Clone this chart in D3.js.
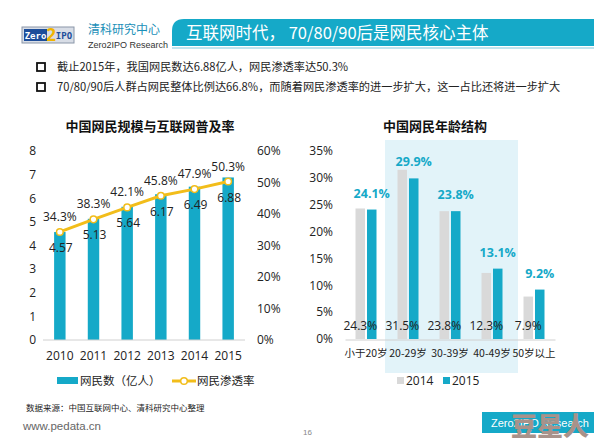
<!DOCTYPE html>
<html><head><meta charset="utf-8">
<script src="https://cdn.jsdelivr.net/npm/d3@7"></script>
<style>
body{margin:0;background:#fff;}
svg{display:block;font-family:"Open Sans","Noto Sans CJK SC",sans-serif;}
</style></head>
<body><svg id="c" width="594" height="444"></svg>
<script>
// ---- data ----
const years = ["2010","2011","2012","2013","2014","2015"];
const netizens = [4.57,5.13,5.64,6.17,6.49,6.88];
const penetration = [34.3,38.3,42.1,45.8,47.9,50.3];
const leftTicks = [0,1,2,3,4,5,6,7,8];
const rightTicks = [0,10,20,30,40,50,60];
const ageGroups = ["小于20岁","20-29岁","30-39岁","40-49岁","50岁以上"];
const age2014 = [24.3,31.5,23.8,12.3,7.9];
const age2015 = [24.1,29.9,23.8,13.1,9.2];
const ageTicks = [0,5,10,15,20,25,30,35];
const bullets = ["截止2015年，我国网民数达6.88亿人，网民渗透率达50.3%",
 "70/80/90后人群占网民整体比例达66.8%，而随着网民渗透率的进一步扩大，这一占比还将进一步扩大"];

const TEAL="#15a9c8", YEL="#f2bd1a", GRAY="#d9d9d9", TXT="#222";
const svg=d3.select("#c");
const cjk='"Noto Sans CJK SC",sans-serif';

// ---- header ----
svg.append("rect").attr("x",22).attr("y",27).attr("width",52).attr("height",16).attr("fill","#d8dde6").attr("stroke","#8a96a8");
svg.append("rect").attr("x",24).attr("y",29).attr("width",23).attr("height",12).attr("fill","#1d4e9a");
svg.append("text").attr("x",35.5).attr("y",39).attr("text-anchor","middle").attr("font-size",9).attr("font-weight","bold").attr("fill","#fff").attr("font-family","DejaVu Sans Mono").text("Zero");
svg.append("text").attr("x",51).attr("y",41).attr("text-anchor","middle").attr("font-size",17).attr("font-weight","bold").attr("fill","#f0b400").text("2");
svg.append("text").attr("x",64).attr("y",39).attr("text-anchor","middle").attr("font-size",9).attr("font-weight","bold").attr("fill","#1d4e9a").attr("font-family","DejaVu Sans Mono").text("IPO");
svg.append("text").attr("x",88).attr("y",34).attr("font-size",12).attr("fill","#1a8fb8").attr("font-family",cjk).text("清科研究中心");
svg.append("text").attr("x",88).attr("y",48).attr("font-size",9).attr("fill","#333").attr("font-family","Liberation Sans Narrow, Liberation Sans").text("Zero2IPO Research");
svg.append("path").attr("d","M172,46 L172,31 Q172,19 184,19 L594,19 L594,46 Z").attr("fill",TEAL);
svg.append("rect").attr("x",172).attr("y",47).attr("width",422).attr("height",2).attr("fill","#bfe4ee");
svg.append("text").attr("x",186).attr("y",39).attr("font-size",16.5).attr("fill","#fff").attr("font-family",cjk).text("互联网时代， 70/80/90后是网民核心主体");

bullets.forEach((b,i)=>{
  const y=68+i*20;
  svg.append("rect").attr("x",37).attr("y",y-5).attr("width",8).attr("height",8).attr("fill","none").attr("stroke","#111").attr("stroke-width",1.8);
  svg.append("text").attr("x",57).attr("y",y+3).attr("font-size",11.2).attr("fill",TXT).attr("font-family",cjk).text(b);
});

// ---- left chart ----
svg.append("text").attr("x",150).attr("y",131).attr("text-anchor","middle").attr("font-size",13).attr("font-weight","bold").attr("fill","#111").attr("font-family",cjk).text("中国网民规模与互联网普及率");
const xL=d3.scaleBand().domain(years).range([43,245]).paddingInner(0.66).paddingOuter(0.33);
const yL=d3.scaleLinear().domain([0,8]).range([340,151]);
const yR=d3.scaleLinear().domain([0,60]).range([340,151]);
const gl=svg.append("g");
gl.append("g").attr("transform","translate(36,0)").call(d3.axisLeft(yL).tickValues(leftTicks).tickSize(0).tickPadding(0))
  .call(g=>{g.select(".domain").remove();g.selectAll("text").attr("font-size",12).attr("fill",TXT).attr("font-family","Open Sans");});
gl.append("g").attr("transform","translate(257,0)").call(d3.axisRight(yR).tickValues(rightTicks).tickFormat(d=>d+"%").tickSize(0).tickPadding(0))
  .call(g=>{g.select(".domain").remove();g.selectAll("text").attr("font-size",12).attr("fill",TXT).attr("font-family","Open Sans");});
gl.selectAll(".bar").data(years).join("rect").attr("x",d=>xL(d)).attr("width",xL.bandwidth())
  .attr("y",(d,i)=>yL(netizens[i])).attr("height",(d,i)=>yL(0)-yL(netizens[i])).attr("fill",TEAL);
gl.append("g").attr("transform","translate(0,340)").call(d3.axisBottom(xL).tickSize(0).tickPadding(11))
  .call(g=>{g.select(".domain").attr("stroke","#d0d0d0").attr("d","M43,0H245");g.selectAll("text").attr("font-size",12).attr("fill",TXT).attr("font-family","Open Sans");});
const cx=d=>xL(d)+xL.bandwidth()/2;
gl.append("path").datum(years).attr("fill","none").attr("stroke",YEL).attr("stroke-width",3)
  .attr("d",d3.line().x(d=>cx(d)).y((d,i)=>yR(penetration[i])));
gl.selectAll(".pt").data(years).join("circle").attr("cx",cx).attr("cy",(d,i)=>yR(penetration[i])).attr("r",3.3).attr("fill","#fff").attr("stroke",YEL).attr("stroke-width",1.5);
gl.selectAll(".pl").data(years).join("text").attr("x",cx).attr("y",(d,i)=>yR(penetration[i])-11).attr("text-anchor","middle").attr("font-size",12).attr("fill",TXT).attr("font-family","Open Sans").text((d,i)=>penetration[i].toFixed(1)+"%");
gl.selectAll(".vl").data(years).join("text").attr("x",d=>cx(d)+1).attr("y",(d,i)=>yR(penetration[i])+20).attr("text-anchor","middle").attr("font-size",12).attr("fill",TXT).attr("font-family","Open Sans").text((d,i)=>netizens[i].toFixed(2));
// legend
svg.append("rect").attr("x",57).attr("y",377).attr("width",21).attr("height",7).attr("fill",TEAL);
svg.append("text").attr("x",80).attr("y",385).attr("font-size",11.5).attr("fill",TXT).attr("font-family",cjk).text("网民数（亿人）");
svg.append("line").attr("x1",172).attr("x2",196).attr("y1",381).attr("y2",381).attr("stroke",YEL).attr("stroke-width",3);
svg.append("circle").attr("cx",184).attr("cy",381).attr("r",3.3).attr("fill","#fff").attr("stroke",YEL).attr("stroke-width",1.5);
svg.append("text").attr("x",197).attr("y",385).attr("font-size",11.5).attr("fill",TXT).attr("font-family",cjk).text("网民渗透率");

// ---- right chart ----
svg.append("rect").attr("x",385).attr("y",140).attr("width",133).attr("height",233).attr("fill","#e2f3f9");
svg.append("text").attr("x",435).attr("y",131).attr("text-anchor","middle").attr("font-size",13).attr("font-weight","bold").attr("fill","#111").attr("font-family",cjk).text("中国网民年龄结构");
const xA=d3.scaleBand().domain(ageGroups).range([345,555]);
const yA=d3.scaleLinear().domain([0,35]).range([339,151]);
const bw=9.5, gap=2;
const ga=svg.append("g");
ga.append("g").attr("transform","translate(333,0)").call(d3.axisLeft(yA).tickValues(ageTicks).tickFormat(d=>d+"%").tickSize(0).tickPadding(0))
  .call(g=>{g.select(".domain").remove();g.selectAll("text").attr("font-size",12).attr("fill",TXT).attr("font-family","Open Sans");});
const mid=d=>xA(d)+xA.bandwidth()/2;
ga.selectAll(".b14").data(ageGroups).join("rect").attr("x",d=>mid(d)-gap/2-bw).attr("width",bw)
  .attr("y",(d,i)=>yA(age2014[i])).attr("height",(d,i)=>yA(0)-yA(age2014[i])).attr("fill",GRAY);
ga.selectAll(".b15").data(ageGroups).join("rect").attr("x",d=>mid(d)+gap/2).attr("width",bw)
  .attr("y",(d,i)=>yA(age2015[i])).attr("height",(d,i)=>yA(0)-yA(age2015[i])).attr("fill",TEAL);
ga.append("g").attr("transform","translate(0,339.5)").call(d3.axisBottom(xA).tickSize(0).tickPadding(10))
  .call(g=>{g.select(".domain").attr("stroke","#d0d0d0");g.selectAll("text").attr("font-size",10.5).attr("fill",TXT).attr("font-family",cjk);});
ga.selectAll(".l15").data(ageGroups).join("text").attr("x",d=>mid(d)+gap/2+bw/2).attr("y",(d,i)=>yA(age2015[i])-12).attr("text-anchor","middle")
  .attr("font-size",12.5).attr("font-weight","bold").attr("fill",TEAL).attr("font-family","Open Sans").text((d,i)=>age2015[i].toFixed(1)+"%");
ga.selectAll(".l14").data(ageGroups).join("text").attr("x",d=>mid(d)-gap/2-bw/2).attr("y",330).attr("text-anchor","middle")
  .attr("font-size",12).attr("fill",TXT).attr("font-family","Open Sans").text((d,i)=>age2014[i].toFixed(1)+"%");
// legend
svg.append("rect").attr("x",397).attr("y",377).attr("width",7).attr("height",7).attr("fill",GRAY);
svg.append("text").attr("x",406).attr("y",385).attr("font-size",12).attr("fill",TXT).attr("font-family","Open Sans").text("2014");
svg.append("rect").attr("x",443).attr("y",377).attr("width",7).attr("height",7).attr("fill",TEAL);
svg.append("text").attr("x",452).attr("y",385).attr("font-size",12).attr("fill",TXT).attr("font-family","Open Sans").text("2015");

// ---- footer ----
svg.append("text").attr("x",26).attr("y",411).attr("font-size",8.5).attr("fill",TXT).attr("font-family",cjk).text("数据来源：中国互联网中心、清科研究中心整理");
svg.append("text").attr("x",23).attr("y",430).attr("font-size",11.5).attr("fill","#666").attr("font-family","Liberation Sans Narrow, Liberation Sans").text("www.pedata.cn");
svg.append("text").attr("x",303).attr("y",435).attr("font-size",8).attr("fill","#888").attr("font-family","Liberation Sans").text("16");
svg.append("rect").attr("x",482).attr("y",412).attr("width",112).attr("height",21).attr("fill",TEAL);
svg.append("text").attr("x",491).attr("y",427).attr("font-size",11).attr("fill","#fff").attr("font-family","Liberation Sans Narrow, Liberation Sans").text("Zero2IPO Research");
svg.append("text").attr("x",550).attr("y",436).attr("text-anchor","middle").attr("font-size",26).attr("font-weight","900").attr("fill","#a8928a").attr("font-family",cjk).text("豆星人");
</script></body></html>
